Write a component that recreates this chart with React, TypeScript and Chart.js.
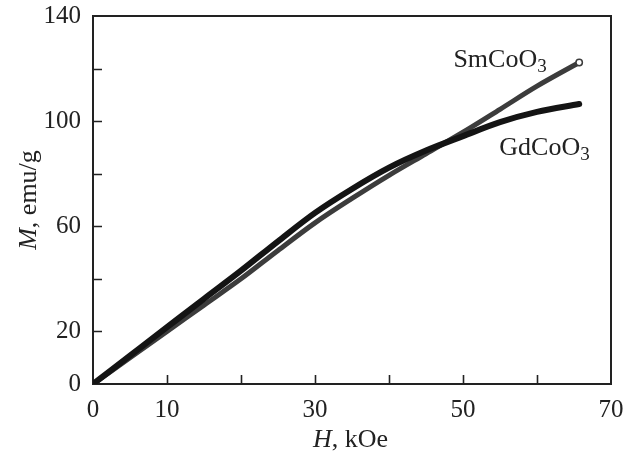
import { useEffect, useRef } from 'react';
import { Chart, registerables } from 'chart.js';

Chart.register(...registerables);

// Magnetic field H, kOe
const fieldKOe = [0, 5, 10, 15, 20, 25, 30, 35, 40, 45, 50, 55, 60, 65.7];
// Magnetization M, emu/g
const gdCoO3 = [0, 10.8, 21.6, 32.4, 43.1, 54.3, 65.1, 74.2, 82.3, 88.8, 94.3, 99.6, 103.5, 106.5];
const smCoO3 = [0, 10.0, 20.0, 30.0, 40.0, 50.8, 61.3, 70.6, 79.4, 87.6, 95.8, 104.5, 113.3, 122.3];

const xTickValues = [0, 10, 20, 30, 40, 50, 60, 70];
const xTickLabels = ['0', '10', '', '30', '', '50', '', '70'];
const yTickValues = [0, 20, 40, 60, 80, 100, 120, 140];
const yTickLabels = ['0', '20', '', '60', '', '100', '', '140'];

const seriesLabels = [
  { name: 'SmCoO', sub: '3', h: 48.7, m: 120.6 },
  { name: 'GdCoO', sub: '3', h: 54.9, m: 87.1 },
];

const SERIF = '"Liberation Serif", "DejaVu Serif", "Times New Roman", serif';
const INK = '#222';

const framePlugin = {
  id: 'frameTicks',
  beforeDatasetsDraw(chart: any) {
    const { ctx, chartArea: a, scales } = chart;
    const x = scales.x;
    const y = scales.y;
    ctx.save();
    ctx.strokeStyle = INK;
    ctx.lineWidth = 2;
    ctx.strokeRect(a.left, a.top, a.right - a.left, a.bottom - a.top);
    ctx.lineWidth = 1.6;
    ctx.beginPath();
    for (const v of xTickValues.slice(1, -1)) {
      const px = Math.round(x.getPixelForValue(v)) + 0.5;
      ctx.moveTo(px, a.bottom);
      ctx.lineTo(px, a.bottom - 9);
    }
    for (const v of yTickValues.slice(1, -1)) {
      const py = Math.round(y.getPixelForValue(v)) + 0.5;
      ctx.moveTo(a.left, py);
      ctx.lineTo(a.left + 9, py);
    }
    ctx.stroke();
    ctx.restore();
  },
  afterDatasetsDraw(chart: any) {
    const { ctx, chartArea: a, scales } = chart;
    const x = scales.x;
    const y = scales.y;
    ctx.save();
    ctx.fillStyle = INK;
    ctx.textBaseline = 'alphabetic';
    ctx.textAlign = 'left';
    for (const s of seriesLabels) {
      const px = x.getPixelForValue(s.h);
      const py = y.getPixelForValue(s.m);
      ctx.font = `26px ${SERIF}`;
      ctx.fillText(s.name, px, py);
      const w = ctx.measureText(s.name).width;
      ctx.font = `19px ${SERIF}`;
      ctx.fillText(s.sub, px + w, py + 5);
    }
    // x axis title: "H, kOe"
    const bx = 313;
    const by = 447;
    ctx.font = `italic 26px ${SERIF}`;
    ctx.fillText('H', bx, by);
    const w = ctx.measureText('H').width;
    ctx.font = `26px ${SERIF}`;
    ctx.fillText(', kOe', bx + w, by);
    // y axis title: "M, emu/g" rotated
    ctx.translate(36, (a.top + a.bottom) / 2);
    ctx.rotate(-Math.PI / 2);
    ctx.font = `italic 26px ${SERIF}`;
    const wM = ctx.measureText('M').width;
    ctx.font = `26px ${SERIF}`;
    const wRest = ctx.measureText(', emu/g').width;
    const start = -(wM + wRest) / 2;
    ctx.font = `italic 26px ${SERIF}`;
    ctx.fillText('M', start, 0);
    ctx.font = `26px ${SERIF}`;
    ctx.fillText(', emu/g', start + wM, 0);
    ctx.restore();
  },
};

export default function App() {
  const ref = useRef<HTMLCanvasElement | null>(null);

  useEffect(() => {
    if (!ref.current) return;
    const pts = (ys: number[]) => fieldKOe.map((h, i) => ({ x: h, y: ys[i] }));
    const smPointRadius = fieldKOe.map((_, i) => (i === fieldKOe.length - 1 ? 3.2 : 0));
    const chart = new Chart(ref.current, {
      type: 'line',
      data: {
        datasets: [
          {
            label: 'GdCoO3',
            data: pts(gdCoO3),
            borderColor: '#141414',
            borderWidth: 6,
            borderCapStyle: 'round',
            pointRadius: 0,
            cubicInterpolationMode: 'monotone',
            fill: false,
          },
          {
            label: 'SmCoO3',
            data: pts(smCoO3),
            borderColor: '#3c3c3c',
            borderWidth: 5,
            borderCapStyle: 'round',
            pointRadius: smPointRadius,
            pointBackgroundColor: '#ffffff',
            pointBorderColor: '#3c3c3c',
            pointBorderWidth: 1.5,
            cubicInterpolationMode: 'monotone',
            fill: false,
          },
          {
            label: 'SmCoO3 open markers',
            data: pts(smCoO3),
            borderColor: 'rgba(255,255,255,0.9)',
            borderWidth: 2,
            borderDash: [2, 1.6],
            pointRadius: 0,
            cubicInterpolationMode: 'monotone',
            fill: false,
          },
        ],
      } as any,
      options: {
        animation: false,
        responsive: false,
        events: [],
        layout: { padding: { top: 16, right: 13, left: 0, bottom: 0 } },
        plugins: {
          legend: { display: false },
          tooltip: { enabled: false },
          title: { display: false },
        },
        scales: {
          x: {
            type: 'linear',
            min: 0,
            max: 70,
            border: { display: false },
            grid: { display: false, drawTicks: false },
            afterBuildTicks: (s: any) => {
              s.ticks = xTickValues.map((v) => ({ value: v }));
            },
            afterFit: (s: any) => {
              s.height = 72;
              s.paddingLeft = 0;
              s.paddingRight = 0;
            },
            ticks: {
              autoSkip: false,
              maxRotation: 0,
              padding: 11,
              color: INK,
              font: { family: SERIF, size: 25 },
              callback: (v: any) => xTickLabels[xTickValues.indexOf(Number(v))] ?? '',
            },
          },
          y: {
            type: 'linear',
            min: 0,
            max: 140,
            border: { display: false },
            grid: { display: false, drawTicks: false },
            afterBuildTicks: (s: any) => {
              s.ticks = yTickValues.map((v) => ({ value: v }));
            },
            afterFit: (s: any) => {
              s.width = 93;
              s.paddingTop = 0;
              s.paddingBottom = 0;
            },
            ticks: {
              autoSkip: false,
              padding: 12,
              color: INK,
              font: { family: SERIF, size: 25 },
              callback: (v: any) => yTickLabels[yTickValues.indexOf(Number(v))] ?? '',
            },
          },
        },
      } as any,
      plugins: [framePlugin],
    });
    return () => chart.destroy();
  }, []);

  return (
    <div style={{ position: 'fixed', left: 0, top: 0, width: 624, height: 456, background: '#fff' }}>
      <canvas ref={ref} width={624} height={456} style={{ display: 'block' }} />
    </div>
  );
}
